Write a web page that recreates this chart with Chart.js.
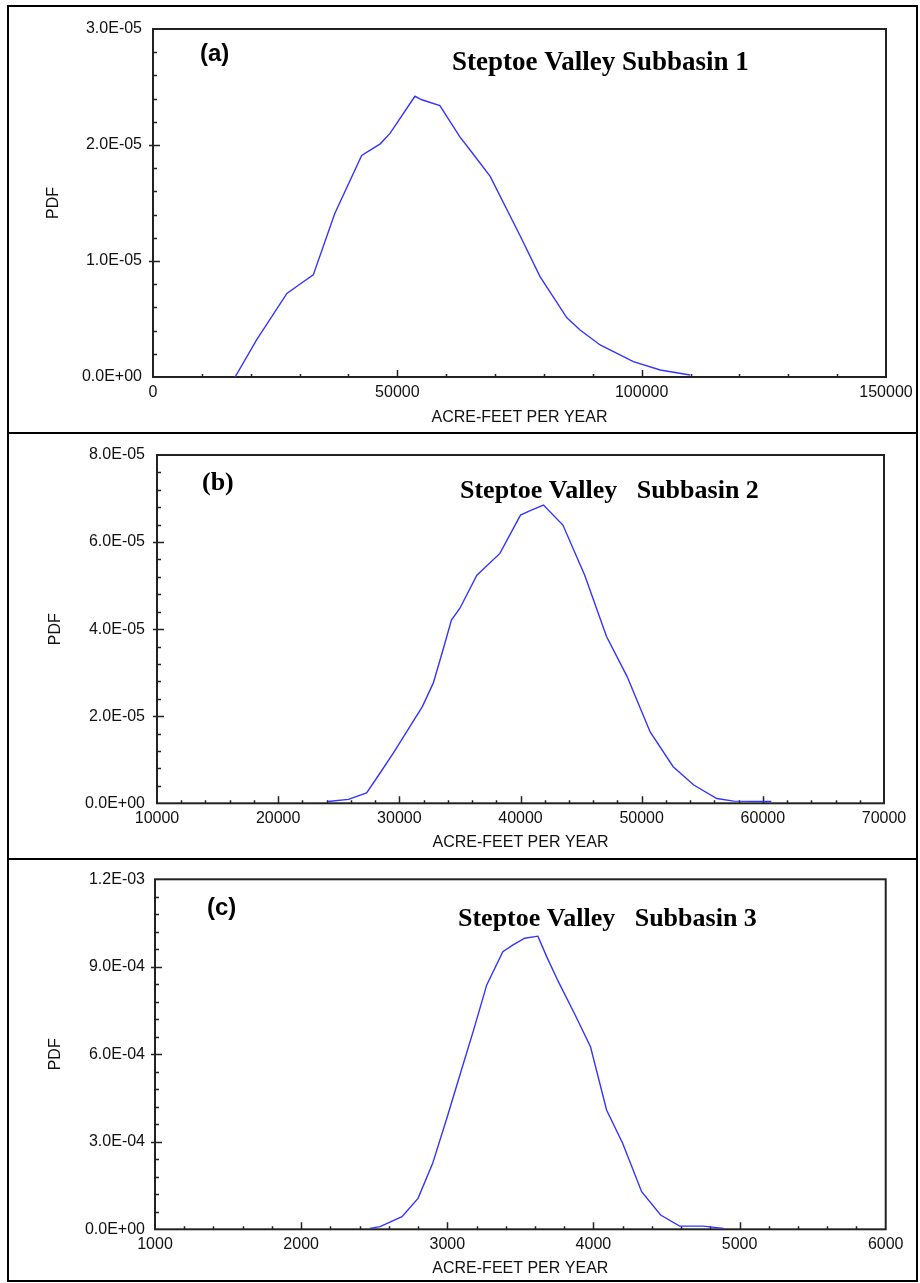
<!DOCTYPE html>
<html>
<head>
<meta charset="utf-8">
<script src="https://cdn.jsdelivr.net/npm/chart.js@4.4.1/dist/chart.umd.min.js"></script>
<style>
  body { margin: 0; background: #fff; width: 920px; height: 1283px; position: relative; overflow: hidden; }
  #box { position: absolute; left: 7px; top: 5px; width: 911px; height: 1277px; border: 2px solid #000; box-sizing: border-box; }
  .rule { position: absolute; left: 7px; width: 911px; height: 2px; background: #000; }
  canvas { position: absolute; left: 0; }
</style>
</head>
<body>
<div id="box"></div>
<div class="rule" style="top:432px"></div>
<div class="rule" style="top:858px"></div>
<canvas id="chartA" width="920" height="433" style="top:0"></canvas>
<canvas id="chartB" width="920" height="426" style="top:433px"></canvas>
<canvas id="chartC" width="920" height="424" style="top:859px"></canvas>
<script>
// (a) Subbasin 1
const aX = [16800, 21200, 27400, 30400, 32800, 37200, 42700, 46500, 48500, 53600, 55000, 58700, 62800, 65200, 69000, 75100, 79200, 84700, 87400, 91500, 98300, 103800, 109900];
const aY = [0, 3.2e-6, 7.2e-6, 8.1e-6, 8.8e-6, 1.41e-5, 1.91e-5, 2.01e-5, 2.10e-5, 2.42e-5, 2.39e-5, 2.34e-5, 2.07e-5, 1.94e-5, 1.73e-5, 1.22e-5, 8.65e-6, 5.1e-6, 4.05e-6, 2.76e-6, 1.32e-6, 6e-7, 1.7e-7];
const aXTicks = [0, 50000, 100000, 150000];
const aYTicks = [0, 1e-5, 2e-5, 3e-5];

// (b) Subbasin 2
const bX = [24100, 25800, 27300, 28400, 29500, 30600, 31900, 32800, 33600, 34300, 35000, 36400, 38300, 40000, 40800, 41900, 43500, 45300, 47100, 48800, 50700, 52600, 54300, 56200, 57600, 60700];
const bY = [4e-7, 9e-7, 2.4e-6, 6.9e-6, 1.15e-5, 1.64e-5, 2.22e-5, 2.76e-5, 3.52e-5, 4.21e-5, 4.48e-5, 5.24e-5, 5.74e-5, 6.62e-5, 6.72e-5, 6.85e-5, 6.39e-5, 5.24e-5, 3.83e-5, 2.91e-5, 1.64e-5, 8.4e-6, 4.2e-6, 1.1e-6, 5e-7, 4e-7];
const bXTicks = [10000, 20000, 30000, 40000, 50000, 60000, 70000];
const bYTicks = [0, 2e-5, 4e-5, 6e-5, 8e-5];

// (c) Subbasin 3
const cX = [2470, 2540, 2690, 2800, 2900, 3000, 3090, 3180, 3270, 3380, 3450, 3530, 3620, 3680, 3760, 3870, 3980, 4090, 4200, 4330, 4460, 4590, 4750, 4890];
const cY = [3e-6, 9e-6, 4.3e-5, 1.06e-4, 2.26e-4, 3.86e-4, 5.35e-4, 6.83e-4, 8.38e-4, 9.52e-4, 9.75e-4, 9.98e-4, 1.005e-3, 9.35e-4, 8.49e-4, 7.40e-4, 6.26e-4, 4.09e-4, 2.95e-4, 1.29e-4, 4.9e-5, 1.1e-5, 1.1e-5, 3e-6];
const cXTicks = [1000, 2000, 3000, 4000, 5000, 6000];
const cYTicks = [0, 3e-4, 6e-4, 9e-4, 1.2e-3];

const SANS = "'Liberation Sans', Arial, sans-serif";
const SERIF = "'Liberation Serif', 'Times New Roman', serif";

function sci(v) {
  const [m, e] = v.toExponential(1).split('e');
  const n = Math.abs(parseInt(e, 10));
  return m + 'E' + (e[0] === '-' ? '-' : '+') + (n < 10 ? '0' : '') + n;
}

// plot box and inward tick marks
const frame = {
  id: 'frame',
  beforeDatasetsDraw(chart, args, opts) {
    const { ctx, chartArea: a, scales: { x, y } } = chart;
    ctx.save();
    ctx.strokeStyle = '#222';
    ctx.lineWidth = 2;
    ctx.strokeRect(a.left, a.top, a.right - a.left, a.bottom - a.top);
    ctx.lineWidth = 1.5;
    ctx.beginPath();
    const nx = Math.round((x.max - x.min) / opts.xMinor);
    for (let i = 1; i < nx; i++) {
      const v = x.min + i * opts.xMinor;
      const major = opts.xMajor.some(t => Math.abs(t - v) < opts.xMinor / 100);
      const px = Math.round(x.getPixelForValue(v)) + 0.5;
      ctx.moveTo(px, a.bottom);
      ctx.lineTo(px, a.bottom - (major ? 7 : 3));
    }
    const ny = Math.round((y.max - y.min) / opts.yMinor);
    for (let i = 1; i < ny; i++) {
      const v = y.min + i * opts.yMinor;
      const major = opts.yMajor.some(t => Math.abs(t - v) < opts.yMinor / 100);
      const py = Math.round(y.getPixelForValue(v)) + 0.5;
      ctx.moveTo(a.left - (major ? 4 : 0), py);
      ctx.lineTo(a.left + (major ? 7 : 4), py);
    }
    ctx.stroke();
    ctx.restore();
  }
};

// panel letter and subbasin caption
const notes = {
  id: 'notes',
  afterDraw(chart, args, opts) {
    const { ctx, chartArea: a } = chart;
    ctx.save();
    ctx.fillStyle = '#000';
    ctx.textBaseline = 'alphabetic';
    opts.items.forEach(it => {
      ctx.font = it.font;
      ctx.fillText(it.text, a.left + it.dx, a.top + it.dy);
    });
    ctx.restore();
  }
};

function makeChart(id, xs, ys, xTicks, yTicks, L, items) {
  const tickFont = { family: SANS, size: 16 };
  new Chart(document.getElementById(id), {
    type: 'line',
    data: {
      datasets: [{
        data: xs.map((v, i) => ({ x: v, y: ys[i] })),
        borderColor: '#3434ff',
        borderWidth: 1.4,
        pointRadius: 0,
        tension: 0,
        fill: false
      }]
    },
    options: {
      responsive: false,
      animation: false,
      layout: { padding: { left: 0, top: L.top, right: 920 - L.right, bottom: 0 } },
      plugins: {
        legend: { display: false },
        tooltip: { enabled: false },
        frame: { xMinor: L.xMinor, yMinor: L.yMinor, xMajor: xTicks, yMajor: yTicks },
        notes: { items: items }
      },
      scales: {
        x: {
          type: 'linear',
          min: xTicks[0],
          max: xTicks[xTicks.length - 1],
          afterBuildTicks: s => { s.ticks = xTicks.map(v => ({ value: v })); },
          afterFit: s => { s.height = L.h - L.bottom; },
          grid: { display: false, drawTicks: false },
          border: { display: false },
          ticks: { autoSkip: false, maxRotation: 0, padding: 6, color: '#111', font: tickFont, callback: v => String(v) },
          title: { display: true, text: 'ACRE-FEET PER YEAR', color: '#111', font: tickFont, padding: { top: 0, bottom: L.xTitlePad } }
        },
        y: {
          min: yTicks[0],
          max: yTicks[yTicks.length - 1],
          afterBuildTicks: s => { s.ticks = yTicks.map(v => ({ value: v })); },
          afterFit: s => { s.width = L.left; },
          grid: { display: false, drawTicks: false },
          border: { display: false },
          ticks: { autoSkip: false, padding: L.yLabelPad, color: '#111', font: tickFont, callback: v => sci(v) },
          title: { display: true, text: 'PDF', color: '#111', font: tickFont, padding: { top: L.yTitlePad, bottom: 0 } }
        }
      }
    },
    plugins: [frame, notes]
  });
}

makeChart('chartA', aX, aY, aXTicks, aYTicks,
  { h: 433, left: 153, top: 29, right: 886, bottom: 377, xMinor: 10000, yMinor: 2e-6, xTitlePad: 5.4, yTitlePad: 44.4, yLabelPad: 11 },
  [
    { text: '(a)', font: 'bold 24px ' + SANS, dx: 47, dy: 32 },
    { text: 'Steptoe Valley Subbasin 1', font: 'bold 27px ' + SERIF, dx: 299, dy: 41 }
  ]);

makeChart('chartB', bX, bY, bXTicks, bYTicks,
  { h: 426, left: 157, top: 22, right: 884, bottom: 370.3, xMinor: 2000, yMinor: 4e-6, xTitlePad: 6.9, yTitlePad: 46.4, yLabelPad: 12 },
  [
    { text: '(b)', font: 'bold 26px ' + SERIF, dx: 45, dy: 35 },
    { text: 'Steptoe Valley   Subbasin 2', font: 'bold 26px ' + SERIF, dx: 303, dy: 43 }
  ]);

makeChart('chartC', cX, cY, cXTicks, cYTicks,
  { h: 424, left: 155, top: 20.3, right: 885.7, bottom: 370.3, xMinor: 200, yMinor: 6e-5, xTitlePad: 4.4, yTitlePad: 46.4, yLabelPad: 10 },
  [
    { text: '(c)', font: 'bold 24px ' + SANS, dx: 52, dy: 36 },
    { text: 'Steptoe Valley   Subbasin 3', font: 'bold 26px ' + SERIF, dx: 303, dy: 47 }
  ]);
</script>
</body>
</html>
